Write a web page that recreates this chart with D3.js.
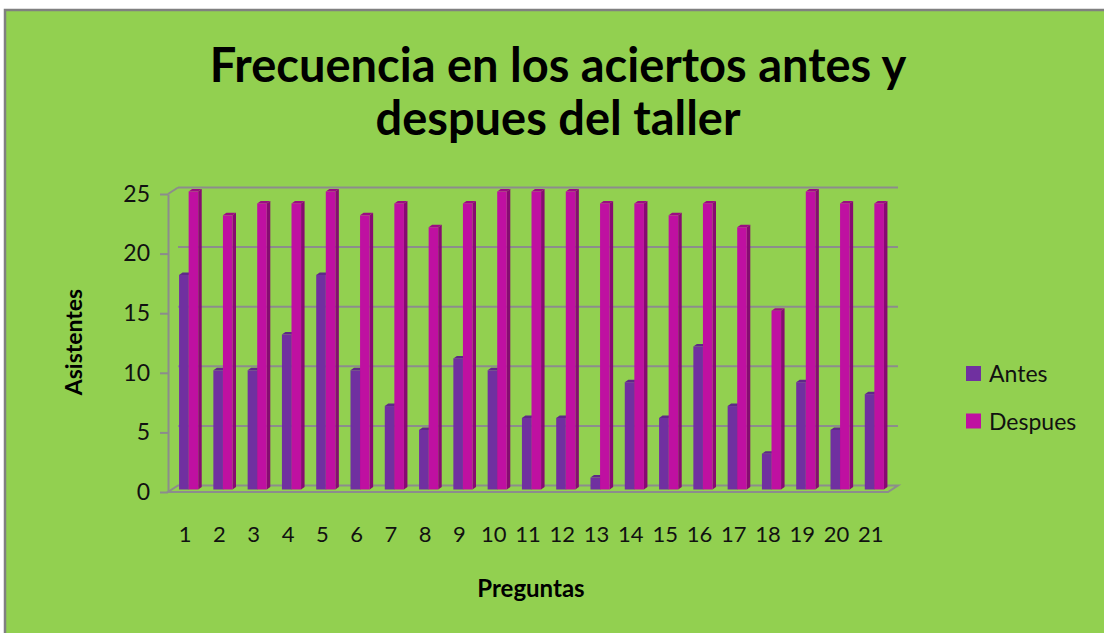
<!DOCTYPE html>
<html>
<head>
<meta charset="utf-8">
<script src="https://cdn.jsdelivr.net/npm/d3@7"></script>
<style>
  html, body { margin: 0; padding: 0; background: #fff; }
  svg { display: block; }
</style>
</head>
<body>
<div id="chart"></div>
<script>
// datos
const preguntas = ["1","2","3","4","5","6","7","8","9","10","11","12","13","14","15","16","17","18","19","20","21"];
const antes   = [18,10,10,13,18,10,7,5,11,10,6,6,1,9,6,12,7,3,9,5,8];
const despues = [25,23,24,24,25,23,24,22,24,25,25,25,24,24,23,24,22,15,25,24,24];
const series = ["Antes", "Despues"];
const yTicks = [0,5,10,15,20,25];

const W = 1104, H = 633;
const colors = {
    Antes:   { front: "#7030A0", side: "#4e1f72", top: "#5e2889" },
    Despues: { front: "#BF10A1", side: "#870a72", top: "#9c0c84" }
};
const font = "Lato, 'DejaVu Sans', sans-serif";

// profundidad del "3D"
const wallDx = 10, wallDy = -6.5;
const barDx = 3.5, barDy = -2.5, barDepthX = 3.5, barDepthY = 2.5;

const svg = d3.select("#chart").append("svg")
    .attr("width", W).attr("height", H);

// fondo y marco
svg.append("rect")
    .attr("x", 5).attr("y", 10)
    .attr("width", W + 10).attr("height", H + 10)
    .attr("fill", "#92D050")
    .attr("stroke", "#808080")
    .attr("stroke-width", 2.5);

const x0 = d3.scaleBand().domain(preguntas).range([168, 888]).padding(0);
const x1 = d3.scaleBand().domain(series).range([0, x0.bandwidth()]).paddingInner(0).paddingOuter(0.79);
const y = d3.scaleLinear().domain([0, 25]).range([492, 194]);

const xLeft = x0.range()[0], xRight = x0.range()[1];

// piso
const floor = [[xLeft, y(0)], [xRight, y(0)], [xRight + wallDx, y(0) + wallDy], [xLeft + wallDx, y(0) + wallDy]];
svg.append("path")
    .attr("d", d3.line()(floor) + "Z")
    .attr("fill", "none")
    .attr("stroke", "#8C8C8C")
    .attr("stroke-width", 2);

// lineas de la pared del fondo
const grid = svg.append("g").attr("class", "grid");
grid.selectAll("line.g")
    .data(yTicks.filter(d => d > 0))
    .enter().append("line")
    .attr("class", "g")
    .attr("x1", xLeft + wallDx).attr("x2", xRight + wallDx)
    .attr("y1", d => y(d) + wallDy).attr("y2", d => y(d) + wallDy)
    .attr("stroke", "#8C8C8C").attr("stroke-width", 2);

// union del eje con la pared
svg.append("line")
    .attr("x1", xLeft).attr("y1", y(25))
    .attr("x2", xLeft + wallDx).attr("y2", y(25) + wallDy)
    .attr("stroke", "#8C8C8C").attr("stroke-width", 2);

// eje Y
const yAxis = svg.append("g")
    .attr("transform", `translate(${xLeft},0)`)
    .call(d3.axisLeft(y).tickValues(yTicks).tickSize(8).tickSizeOuter(0).tickPadding(10));
yAxis.select(".domain").attr("stroke", "#8C8C8C").attr("stroke-width", 2);
yAxis.selectAll(".tick line").attr("stroke", "#8C8C8C").attr("stroke-width", 2);
yAxis.selectAll(".tick text")
    .attr("fill", "#111").style("font-family", font).style("font-size", "23px");

// barras
const rows = preguntas.map((p, i) => ({ pregunta: p, Antes: antes[i], Despues: despues[i] }));
const bars = [];
rows.forEach(r => series.forEach(s => bars.push({ pregunta: r.pregunta, serie: s, value: r[s] })));

const barG = svg.append("g").attr("class", "bars");
const bar = barG.selectAll("g.bar")
    .data(bars)
    .enter().append("g")
    .attr("class", "bar")
    .attr("transform", d => `translate(${x0(d.pregunta) + x1(d.serie) + barDx},${barDy})`);

const bw = x1.bandwidth();

bar.append("path")   // cara lateral
    .attr("d", d => {
        const yt = y(d.value), yb = y(0);
        return `M${bw},${yt} L${bw + barDepthX},${yt - barDepthY} L${bw + barDepthX},${yb - barDepthY} L${bw},${yb} Z`;
    })
    .attr("fill", d => colors[d.serie].side);

bar.append("path")   // cara superior
    .attr("d", d => {
        const yt = y(d.value);
        return `M0,${yt} L${barDepthX},${yt - barDepthY} L${bw + barDepthX},${yt - barDepthY} L${bw},${yt} Z`;
    })
    .attr("fill", d => colors[d.serie].top);

bar.append("rect")   // cara frontal
    .attr("x", 0)
    .attr("y", d => y(d.value))
    .attr("width", bw)
    .attr("height", d => y(0) - y(d.value))
    .attr("fill", d => colors[d.serie].front);

// eje X (solo etiquetas)
const xAxis = svg.append("g")
    .attr("transform", `translate(0,${y(0)})`)
    .call(d3.axisBottom(x0).tickSize(0).tickPadding(34));
xAxis.select(".domain").remove();
xAxis.selectAll(".tick text")
    .attr("fill", "#111").style("font-family", font).style("font-size", "22px");

// titulos
const title = svg.append("text")
    .attr("x", 558).attr("text-anchor", "middle")
    .style("font-family", font).style("font-weight", "bold").style("font-size", "47px")
    .attr("fill", "#000");
title.append("tspan").attr("x", 558).attr("y", 82).text("Frecuencia en los aciertos antes y");
title.append("tspan").attr("x", 558).attr("y", 135).text("despues del taller");

svg.append("text")
    .attr("transform", "translate(82,342) rotate(-90)")
    .attr("text-anchor", "middle")
    .style("font-family", font).style("font-weight", "bold").style("font-size", "23px")
    .attr("fill", "#000")
    .text("Asistentes");

svg.append("text")
    .attr("x", 531).attr("y", 597)
    .attr("text-anchor", "middle")
    .style("font-family", font).style("font-weight", "bold").style("font-size", "24px")
    .attr("fill", "#000")
    .text("Preguntas");

// leyenda
const legend = svg.append("g").attr("class", "legend")
    .selectAll("g")
    .data(series)
    .enter().append("g")
    .attr("transform", (d, i) => `translate(966,${366 + i * 47.5})`);
legend.append("rect")
    .attr("width", 15).attr("height", 15)
    .attr("fill", d => colors[d].front);
legend.append("text")
    .attr("x", 23).attr("y", 8).attr("dy", "0.35em")
    .style("font-family", font).style("font-size", "23px")
    .attr("fill", "#111")
    .text(d => d);
</script>
</body>
</html>
